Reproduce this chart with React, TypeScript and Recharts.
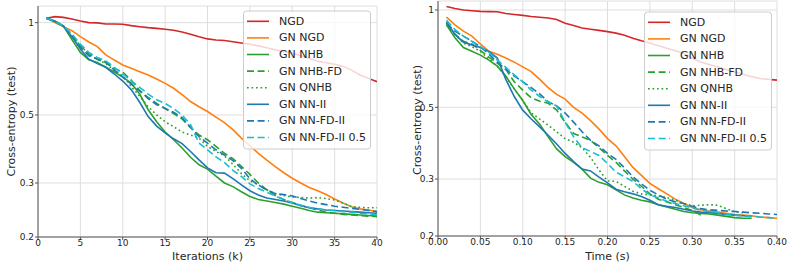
import React from 'react';
import { LineChart, Line, XAxis, YAxis, CartesianGrid } from 'recharts';

const FONT = '"DejaVu Sans", Verdana, sans-serif';

// ---- Left panel: test loss against training iterations (thousands) ----
const iterations = [
  1, 2, 3, 4, 5, 6, 7, 8, 9, 10, 11, 12, 13, 14, 15, 16, 17, 18, 19, 20,
  21, 22, 23, 24, 25, 26, 27, 28, 29, 30, 31, 32, 33, 34, 35, 36, 37, 38, 39, 40,
];
const ngdIter = [1.034, 1.046, 1.04, 1.028, 1.013, 1.0, 0.998, 0.99, 0.99, 0.988, 0.978, 0.97, 0.963, 0.958, 0.952, 0.945, 0.932, 0.917, 0.9, 0.885, 0.878, 0.874, 0.866, 0.858, 0.85, 0.84, 0.828, 0.815, 0.805, 0.795, 0.78, 0.765, 0.748, 0.74, 0.732, 0.72, 0.7, 0.675, 0.658, 0.642];
const gnNgdIter = [1.034, 1.0, 0.97, 0.942, 0.9, 0.865, 0.835, 0.785, 0.755, 0.728, 0.71, 0.692, 0.675, 0.655, 0.634, 0.611, 0.582, 0.553, 0.532, 0.513, 0.492, 0.472, 0.448, 0.42, 0.397, 0.375, 0.356, 0.339, 0.324, 0.311, 0.3, 0.29, 0.283, 0.275, 0.266, 0.258, 0.251, 0.247, 0.245, 0.242];
const gnNhbIter = [1.034, 1.01, 0.975, 0.88, 0.8, 0.756, 0.742, 0.715, 0.69, 0.664, 0.635, 0.585, 0.52, 0.475, 0.44, 0.415, 0.39, 0.364, 0.344, 0.333, 0.316, 0.3, 0.292, 0.281, 0.271, 0.265, 0.262, 0.259, 0.256, 0.252, 0.248, 0.244, 0.241, 0.24, 0.239, 0.238, 0.237, 0.236, 0.235, 0.234];
const gnNhbFdIter = [1.034, 1.01, 0.975, 0.91, 0.84, 0.79, 0.76, 0.74, 0.71, 0.69, 0.65, 0.6, 0.57, 0.545, 0.525, 0.505, 0.485, 0.455, 0.43, 0.415, 0.395, 0.375, 0.36, 0.34, 0.32, 0.3, 0.285, 0.273, 0.265, 0.259, 0.254, 0.249, 0.245, 0.241, 0.239, 0.237, 0.236, 0.235, 0.234, 0.233];
const gnQnhbIter = [1.034, 1.01, 0.975, 0.91, 0.84, 0.79, 0.76, 0.735, 0.7, 0.67, 0.62, 0.575, 0.532, 0.5, 0.475, 0.458, 0.44, 0.43, 0.42, 0.395, 0.38, 0.368, 0.345, 0.322, 0.305, 0.296, 0.285, 0.277, 0.273, 0.27, 0.269, 0.268, 0.269, 0.267, 0.264, 0.258, 0.251, 0.25, 0.249, 0.249];
const gnNnIter = [1.034, 1.01, 0.975, 0.9, 0.82, 0.76, 0.735, 0.715, 0.68, 0.645, 0.605, 0.55, 0.494, 0.46, 0.437, 0.418, 0.403, 0.38, 0.357, 0.336, 0.324, 0.323, 0.31, 0.296, 0.283, 0.274, 0.268, 0.265, 0.262, 0.258, 0.253, 0.249, 0.247, 0.245, 0.244, 0.243, 0.242, 0.241, 0.24, 0.239];
const gnNnFdIter = [1.034, 1.01, 0.975, 0.9, 0.83, 0.78, 0.76, 0.745, 0.7, 0.665, 0.63, 0.6, 0.565, 0.54, 0.525, 0.51, 0.49, 0.455, 0.425, 0.405, 0.385, 0.37, 0.355, 0.335, 0.31, 0.295, 0.285, 0.277, 0.275, 0.272, 0.267, 0.262, 0.258, 0.255, 0.252, 0.25, 0.248, 0.246, 0.244, 0.242];
const gnNnFd05Iter = [1.034, 1.01, 0.975, 0.92, 0.85, 0.8, 0.77, 0.75, 0.715, 0.68, 0.645, 0.615, 0.585, 0.56, 0.545, 0.525, 0.5, 0.465, 0.405, 0.385, 0.365, 0.35, 0.33, 0.315, 0.298, 0.288, 0.28, 0.272, 0.265, 0.259, 0.254, 0.25, 0.247, 0.245, 0.244, 0.242, 0.241, 0.239, 0.238, 0.236];

// ---- Right panel: test loss against wall-clock time (s) ----
const times = [
  0.01, 0.02, 0.03, 0.04, 0.05, 0.06, 0.07, 0.08, 0.09, 0.1,
  0.11, 0.12, 0.13, 0.14, 0.15, 0.16, 0.17, 0.18, 0.19, 0.2,
  0.21, 0.22, 0.23, 0.24, 0.25, 0.26, 0.27, 0.28, 0.29, 0.3,
  0.31, 0.32, 0.33, 0.34, 0.35, 0.36, 0.37, 0.38, 0.39, 0.4,
];
const ngdTime = [1.025, 1.01, 1.0, 0.995, 0.99, 0.988, 0.987, 0.975, 0.968, 0.962, 0.955, 0.95, 0.945, 0.935, 0.91, 0.895, 0.88, 0.872, 0.865, 0.857, 0.848, 0.835, 0.818, 0.803, 0.79, 0.775, 0.762, 0.748, 0.735, 0.71, 0.69, 0.678, 0.667, 0.655, 0.643, 0.633, 0.622, 0.614, 0.61, 0.607];
const gnNgdTime = [0.95, 0.9, 0.86, 0.83, 0.785, 0.745, 0.73, 0.71, 0.69, 0.667, 0.645, 0.61, 0.575, 0.548, 0.53, 0.5, 0.48, 0.455, 0.428, 0.4, 0.38, 0.352, 0.326, 0.308, 0.291, 0.28, 0.27, 0.26, 0.252, 0.245, 0.241, 0.239, 0.237, 0.235, 0.233, 0.232, 0.231, 0.229, 0.228, 0.227];
const gnNhbTime = [0.9, 0.82, 0.765, 0.745, 0.725, 0.7, 0.67, 0.625, 0.57, 0.525, 0.475, 0.443, 0.405, 0.372, 0.352, 0.338, 0.322, 0.302, 0.293, 0.288, 0.278, 0.268, 0.262, 0.258, 0.255, 0.25, 0.246, 0.242, 0.238, 0.236, 0.235, 0.234, 0.232, 0.23, 0.228, 0.227, 0.227];
const gnNhbFdTime = [0.9, 0.84, 0.8, 0.785, 0.75, 0.715, 0.685, 0.655, 0.6, 0.565, 0.535, 0.522, 0.515, 0.49, 0.45, 0.415, 0.405, 0.395, 0.375, 0.355, 0.338, 0.318, 0.3, 0.285, 0.27, 0.26, 0.255, 0.25, 0.245, 0.24, 0.232];
const gnQnhbTime = [0.91, 0.84, 0.79, 0.77, 0.745, 0.705, 0.67, 0.62, 0.57, 0.525, 0.48, 0.46, 0.44, 0.42, 0.4, 0.39, 0.375, 0.35, 0.32, 0.296, 0.295, 0.285, 0.275, 0.27, 0.268, 0.266, 0.263, 0.258, 0.252, 0.248, 0.249, 0.25, 0.249, 0.243, 0.238, 0.236];
const gnNnTime = [0.92, 0.84, 0.795, 0.78, 0.765, 0.745, 0.71, 0.61, 0.54, 0.49, 0.46, 0.435, 0.41, 0.385, 0.36, 0.34, 0.322, 0.318, 0.304, 0.292, 0.279, 0.274, 0.27, 0.265, 0.258, 0.25, 0.247, 0.245, 0.242, 0.239, 0.237, 0.236, 0.235, 0.233, 0.232, 0.231, 0.23];
const gnNnFdTime = [0.91, 0.86, 0.83, 0.8, 0.77, 0.73, 0.69, 0.655, 0.625, 0.6, 0.575, 0.55, 0.52, 0.505, 0.48, 0.45, 0.42, 0.395, 0.38, 0.36, 0.345, 0.325, 0.305, 0.29, 0.277, 0.268, 0.26, 0.255, 0.252, 0.247, 0.243, 0.241, 0.24, 0.239, 0.238, 0.237, 0.236, 0.235, 0.234, 0.233];
const gnNnFd05Time = [0.93, 0.87, 0.83, 0.8, 0.77, 0.74, 0.7, 0.665, 0.63, 0.6, 0.565, 0.54, 0.52, 0.505, 0.45, 0.405, 0.375, 0.365, 0.355, 0.335, 0.315, 0.305, 0.295, 0.28, 0.268, 0.262, 0.256, 0.252, 0.248, 0.244, 0.24, 0.238, 0.236, 0.234, 0.232, 0.231, 0.23, 0.229, 0.228, 0.227];

const yTicks = [0.2, 0.3, 0.5, 1];
const iterTicks = [0, 5, 10, 15, 20, 25, 30, 35, 40];
const timeTicks = [0, 0.05, 0.1, 0.15, 0.2, 0.25, 0.3, 0.35, 0.4];

const DASHED = '7 3.6';
const DOTTED = '1.7 2.8';

const SERIES = [
  { key: 'ngd', name: 'NGD', color: '#d62728', dash: undefined as string | undefined },
  { key: 'gnNgd', name: 'GN NGD', color: '#ff7f0e', dash: undefined },
  { key: 'gnNhb', name: 'GN NHB', color: '#2ca02c', dash: undefined },
  { key: 'gnNhbFd', name: 'GN NHB-FD', color: '#2ca02c', dash: DASHED },
  { key: 'gnQnhb', name: 'GN QNHB', color: '#2ca02c', dash: DOTTED },
  { key: 'gnNn', name: 'GN NN-II', color: '#1f77b4', dash: undefined },
  { key: 'gnNnFd', name: 'GN NN-FD-II', color: '#1f77b4', dash: DASHED },
  { key: 'gnNnFd05', name: 'GN NN-FD-II 0.5', color: '#17becf', dash: DASHED },
];

const iterRows = iterations.map((x, i) => ({
  x,
  ngd: ngdIter[i],
  gnNgd: gnNgdIter[i],
  gnNhb: gnNhbIter[i],
  gnNhbFd: gnNhbFdIter[i],
  gnQnhb: gnQnhbIter[i],
  gnNn: gnNnIter[i],
  gnNnFd: gnNnFdIter[i],
  gnNnFd05: gnNnFd05Iter[i],
}));

const timeRows = times.map((x, i) => ({
  x,
  ngd: ngdTime[i],
  gnNgd: gnNgdTime[i],
  gnNhb: gnNhbTime[i],
  gnNhbFd: gnNhbFdTime[i],
  gnQnhb: gnQnhbTime[i],
  gnNn: gnNnTime[i],
  gnNnFd: gnNnFdTime[i],
  gnNnFd05: gnNnFd05Time[i],
}));

const tickStyle = { fontSize: 9, fill: '#262626', fontFamily: FONT };

type PanelProps = {
  left: number;
  width: number;
  rows: any[];
  xMax: number;
  xTicks: number[];
  xFmt: (v: number) => string;
  yMax: number;
  margin: { top: number; right: number; bottom: number; left: number };
};

function Panel({ left, width, rows, xMax, xTicks, xFmt, yMax, margin }: PanelProps) {
  return (
    <div style={{ position: 'absolute', left, top: 0 }}>
      <LineChart width={width} height={267} data={rows} margin={margin}>
        <CartesianGrid stroke="#dadada" strokeWidth={0.9} />
        <XAxis
          dataKey="x"
          type="number"
          domain={[0, xMax]}
          ticks={xTicks}
          tickFormatter={xFmt}
          interval={0}
          allowDataOverflow
          height={30}
          stroke="#555"
          tickSize={3}
          tickMargin={0}
          tick={tickStyle}
        />
        <YAxis
          type="number"
          scale="log"
          domain={[0.2, yMax]}
          ticks={yTicks}
          tickFormatter={(v: number) => String(v)}
          interval={0}
          allowDataOverflow
          width={38}
          stroke="#555"
          tickSize={3}
          tickMargin={1}
          tick={tickStyle}
        />
        {SERIES.map((s) => (
          <Line
            key={s.key}
            dataKey={s.key}
            name={s.name}
            stroke={s.color}
            strokeWidth={1.6}
            strokeDasharray={s.dash}
            dot={false}
            activeDot={false}
            type="linear"
            isAnimationActive={false}
          />
        ))}
      </LineChart>
    </div>
  );
}

function LegendBox({ x, y }: { x: number; y: number }) {
  const rowH = 16.6;
  return (
    <g>
      <rect x={x + 0.5} y={y + 0.5} width={127} height={138} rx={3} ry={3}
        fill="#ffffff" fillOpacity={0.8} stroke="#cccccc" strokeWidth={1} />
      {SERIES.map((s, i) => {
        const cy = y + 10.8 + i * rowH;
        return (
          <g key={s.key}>
            <line x1={x + 4} x2={x + 26} y1={cy} y2={cy} stroke={s.color}
              strokeWidth={1.6} strokeDasharray={s.dash} />
            <text x={x + 36} y={cy} dominantBaseline="central" fontSize={11}
              fontFamily={FONT} fill="#262626">{s.name}</text>
          </g>
        );
      })}
    </g>
  );
}

export default function App() {
  return (
    <div style={{ position: 'fixed', left: 0, top: 0, width: 793, height: 267, background: '#fff', overflow: 'hidden' }}>
      <Panel
        left={0}
        width={400}
        rows={iterRows}
        xMax={40}
        xTicks={iterTicks}
        xFmt={(v) => String(v)}
        yMax={1.133}
        margin={{ top: 6, right: 23, bottom: 0, left: 0 }}
      />
      <Panel
        left={400}
        width={393}
        rows={timeRows}
        xMax={0.4}
        xTicks={timeTicks}
        xFmt={(v) => v.toFixed(2)}
        yMax={1.066}
        margin={{ top: 1, right: 16, bottom: 1, left: 0 }}
      />
      <svg width={793} height={267} style={{ position: 'absolute', left: 0, top: 0, pointerEvents: 'none' }}>
        <text x={11.5} y={121.5} transform="rotate(-90 11.5 121.5)" textAnchor="middle"
          dominantBaseline="central" fontSize={11} fontFamily={FONT} fill="#262626">Cross-entropy (test)</text>
        <text x={207.5} y={256} textAnchor="middle" dominantBaseline="central" fontSize={11}
          fontFamily={FONT} fill="#262626">Iterations (k)</text>
        <text x={417} y={120} transform="rotate(-90 417 120)" textAnchor="middle"
          dominantBaseline="central" fontSize={11} fontFamily={FONT} fill="#262626">Cross-entropy (test)</text>
        <text x={607.5} y={256} textAnchor="middle" dominantBaseline="central" fontSize={11}
          fontFamily={FONT} fill="#262626">Time (s)</text>
        <LegendBox x={243} y={10.5} />
        <LegendBox x={644} y={11.5} />
      </svg>
    </div>
  );
}
